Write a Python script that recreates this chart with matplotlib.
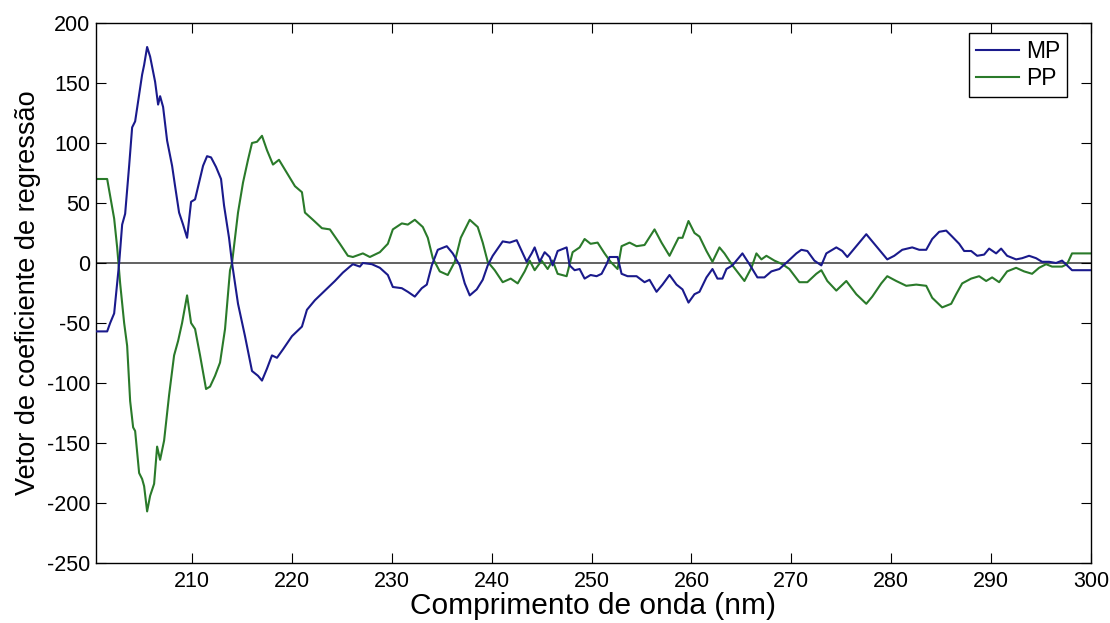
import matplotlib
matplotlib.use("Agg")
from matplotlib import pyplot as plt

plt.rcParams['font.family'] = ['Liberation Sans', 'DejaVu Sans']
plt.rcParams['axes.unicode_minus'] = False

# wavelength (nm) and regression coefficients
mp_x = [200.3, 201.5, 201.8, 202.2, 202.5, 202.7, 203.0, 203.3, 203.7, 204.0,
        204.3, 204.7, 205.0, 205.2, 205.5, 205.8, 206.3, 206.6, 206.8, 207.1,
        207.5, 208.0, 208.3, 208.7, 209.1, 209.5, 209.9, 210.3, 210.7, 211.1,
        211.5, 211.9, 212.4, 212.9, 213.2, 213.7, 214.0, 214.6, 215.3, 216.0,
        216.6, 217.0, 217.5, 218.0, 218.5, 219.1, 220.0, 221.0, 221.5, 222.3,
        223.3, 224.3, 225.1, 225.8, 226.1, 226.8, 227.1, 228.0, 228.8, 229.6,
        230.1, 231.0, 231.6, 232.3, 233.0, 233.5, 234.0, 234.6, 235.5, 236.1,
        236.8, 237.3, 237.8, 238.5, 239.1, 239.6, 240.1, 241.1, 241.8, 242.5,
        243.0, 243.5, 244.0, 244.3, 244.8, 245.3, 245.8, 246.1, 246.6, 247.5,
        247.8, 248.3, 248.8, 249.3, 249.9, 250.5, 251.0, 251.5, 251.8, 252.6,
        253.0, 253.6, 254.5, 255.3, 255.8, 256.5, 257.1, 257.8, 258.5, 259.1,
        259.7, 260.3, 260.8, 261.5, 262.1, 262.6, 263.1, 263.5, 264.1, 265.1,
        265.8, 266.6, 267.3, 268.0, 268.8, 269.6, 270.5, 271.0, 271.6, 272.3,
        273.0, 273.5, 274.5, 275.1, 275.6, 276.5, 277.5, 278.1, 279.0, 279.6,
        280.3, 281.1, 282.1, 282.8, 283.5, 284.1, 284.8, 285.5, 286.1, 286.8,
        287.3, 288.0, 288.6, 289.3, 289.8, 290.5, 291.0, 291.6, 292.5, 293.1,
        293.8, 294.5, 295.1, 295.8, 296.5, 297.1, 297.6, 298.1, 300.0]
mp_y = [-57, -57, -50, -42, -17, 0, 32, 41, 81, 113,
        118, 140, 157, 165, 180, 172, 151, 132, 139, 130,
        102, 81, 64, 42, 32, 21, 51, 53, 67, 81,
        89, 88, 80, 70, 48, 21, 0, -34, -61, -90,
        -94, -98, -88, -77, -79, -72, -61, -53, -39, -31,
        -23, -15, -8, -3, -1, -3, 0, -1, -4, -10,
        -20, -21, -24, -28, -21, -18, -2, 11, 14, 8,
        -2, -17, -27, -22, -14, -2, 6, 18, 17, 19,
        10, 1, 8, 13, 1, 9, 5, -2, 10, 13,
        -2, -6, -5, -13, -10, -11, -9, -1, 5, 5,
        -9, -11, -11, -16, -14, -24, -18, -10, -18, -22,
        -33, -26, -24, -12, -5, -13, -13, -5, -2, 8,
        -1, -12, -12, -7, -5, 1, 8, 11, 10, 2,
        -2, 8, 13, 10, 5, 14, 24, 18, 9, 3,
        6, 11, 13, 11, 11, 20, 26, 27, 22, 16,
        10, 10, 6, 7, 12, 8, 12, 6, 3, 4,
        6, 4, 1, 1, 0, 2, -2, -6, -6]

pp_x = [200.3, 201.5, 201.8, 202.2, 202.5, 202.8, 203.2, 203.5, 203.8, 204.1,
        204.3, 204.7, 205.0, 205.2, 205.5, 205.8, 206.2, 206.5, 206.8, 207.2,
        207.7, 208.2, 208.6, 209.0, 209.5, 209.9, 210.3, 210.8, 211.4, 211.8,
        212.3, 212.8, 213.3, 213.8, 214.0, 214.6, 215.1, 215.6, 216.0, 216.5,
        217.0, 217.5, 218.1, 218.7, 219.5, 220.3, 221.0, 221.3, 222.1, 223.0,
        223.8, 224.8, 225.6, 226.1, 227.1, 227.8, 228.8, 229.6, 230.1, 231.0,
        231.6, 232.3, 233.1, 233.6, 234.1, 234.8, 235.6, 236.3, 236.9, 237.8,
        238.6, 239.1, 239.6, 240.3, 241.1, 241.9, 242.6, 243.3, 243.8, 244.3,
        245.0, 245.6, 246.1, 246.6, 247.5, 248.1, 248.8, 249.3, 249.9, 250.6,
        251.3, 251.9, 252.6, 253.0, 253.8, 254.5, 255.3, 256.3, 257.0, 257.8,
        258.7, 259.1, 259.7, 260.3, 260.8, 261.5, 262.1, 262.8, 263.3, 264.1,
        265.3, 266.0, 266.5, 267.0, 267.5, 268.3, 269.1, 269.8, 270.8, 271.6,
        272.5, 273.0, 273.6, 274.5, 275.5, 276.5, 277.5, 278.1, 279.0, 279.6,
        280.5, 281.5, 282.5, 283.5, 284.1, 285.1, 286.0, 286.5, 287.1, 288.0,
        288.8, 289.5, 290.1, 290.8, 291.6, 292.5, 293.3, 294.1, 294.8, 295.5,
        296.1, 297.1, 297.6, 298.1, 300.0]
pp_y = [70, 70, 56, 37, 13, -17, -50, -69, -115, -137,
        -140, -175, -180, -186, -207, -194, -184, -153, -164, -148,
        -110, -77, -65, -50, -27, -50, -55, -77, -105, -103,
        -94, -83, -55, -6, 0, 42, 67, 86, 100, 101,
        106, 94, 82, 86, 75, 64, 59, 42, 36, 29,
        28, 16, 6, 5, 8, 5, 9, 16, 28, 33,
        32, 36, 30, 21, 4, -7, -10, 1, 21, 36,
        30, 17, 1, -6, -16, -13, -17, -7, 2, -6,
        2, -5, 2, -9, -11, 9, 13, 20, 16, 17,
        8, 1, -5, 14, 17, 14, 15, 28, 17, 6,
        21, 21, 35, 25, 22, 10, 1, 13, 8, -2,
        -15, -4, 8, 3, 6, 2, -1, -5, -16, -16,
        -9, -6, -15, -23, -15, -26, -34, -28, -17, -11,
        -15, -19, -18, -19, -29, -37, -34, -26, -17, -13,
        -11, -15, -12, -16, -7, -4, -7, -9, -4, -1,
        -3, -3, -1, 8, 8]

fig = plt.figure(figsize=(11.1, 6.23), dpi=100)
ax = fig.add_axes([0.0862, 0.0963, 0.8967, 0.8668])

ax.axhline(0, color='#555555', linewidth=1.3, zorder=1)
ax.plot(mp_x, mp_y, color='#1a1a8c', linewidth=1.5, label='MP', zorder=3)
ax.plot(pp_x, pp_y, color='#2a7a2a', linewidth=1.5, label='PP', zorder=2)

ax.set_xlim(200.35, 300)
ax.set_ylim(-250, 200)
ax.set_xticks(range(210, 301, 10))
ax.set_yticks(range(-250, 201, 50))
ax.tick_params(direction='in', top=True, right=True, labelsize=15.5, length=7)
ax.tick_params(axis='x', pad=6)
ax.tick_params(axis='y', pad=4)
for s in ax.spines.values():
    s.set_linewidth(1.0)

ax.set_xlabel('Comprimento de onda (nm)', fontsize=21.5, labelpad=0)
ax.set_ylabel('Vetor de coeficiente de regressão', fontsize=19.5, labelpad=4)

ax.legend(loc='upper right', bbox_to_anchor=(0.976, 0.9815), borderaxespad=0,
          fontsize=16.5, fancybox=False, edgecolor='black', framealpha=1,
          handlelength=1.9, borderpad=0.3, labelspacing=0.2, handletextpad=0.3)

fig.savefig('out.png', dpi=100)
